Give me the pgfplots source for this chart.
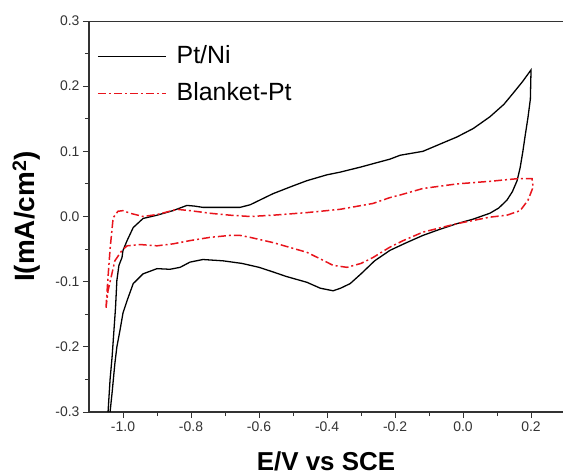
\documentclass[border=0pt]{standalone}
\usepackage{fontspec}
\setmainfont{Liberation Sans}
\usepackage{pgfplots}
\pgfplotsset{compat=1.18}
\definecolor{axgray}{HTML}{333333}
\definecolor{cvred}{HTML}{E8141C}
\begin{document}
\begin{tikzpicture}
\begin{axis}[
  at={(0,0)}, anchor=south west,
  scale only axis,
  width=474bp, height=391bp,
  xmin=-1.1, xmax=0.294, ymin=-0.3, ymax=0.3,
  axis x line*=bottom, axis y line*=left,
  axis line style={axgray, line width=1.2pt},
  tick align=outside,
  major tick length=6bp, minor tick length=4bp,
  every tick/.style={axgray, line width=1pt},
  xtick={-1,-0.8,-0.6,-0.4,-0.2,0,0.2},
  ytick={-0.3,-0.2,-0.1,0,0.1,0.2,0.3},
  minor x tick num=1, minor y tick num=1,
  /pgf/number format/assume math mode=true,
  /pgf/number format/fixed, /pgf/number format/fixed zerofill,
  /pgf/number format/precision=1,
  xticklabel style={/pgf/number format/precision=1, font=\fontsize{14}{15}\selectfont, text=axgray},
  yticklabel style={/pgf/number format/precision=1, font=\fontsize{14}{15}\selectfont, text=axgray},
  xlabel={\textbf{E/V vs SCE}},
  ylabel={\textbf{I(mA/cm$^{\mathbf{2}}$)}},
  xlabel style={font=\fontsize{26}{28}\selectfont, at={([yshift=-58bp]rel axis cs:0.5,0)}, anchor=base},
  ylabel style={font=\fontsize{28}{30}\selectfont, at={([xshift=-54bp]rel axis cs:0,0.5)}, anchor=base},
  legend style={draw=none, fill=none, at={(rel axis cs:0,1)}, anchor=north west,
    xshift=8bp, yshift=-22bp, inner sep=0pt,
    font=\fontsize{25}{27}\selectfont, row sep=10bp, legend cell align=left,
    nodes={inner sep=2bp, text height=18bp, text depth=5bp},
    /tikz/every odd column/.append style={column sep=8bp}},
  legend image code/.code={\draw[#1] (0bp,0bp) -- (68bp,0bp);},
]
\draw[axgray, line width=1.2pt] (rel axis cs:0,1) -- (rel axis cs:1,1);
\addplot[black, line width=1.3pt] coordinates {
(-1.044,-0.30)(-1.038,-0.25)(-1.032,-0.215)(-1.026,-0.17)(-1.022,-0.14)(-1.018,-0.098)(-1.012,-0.075)
(-1.003,-0.063)(-1.0,-0.052)(-0.988,-0.037)(-0.97,-0.017)(-0.941,-0.003)(-0.9,0.002)(-0.853,0.009)
(-0.812,0.017)(-0.79,0.016)(-0.765,0.014)(-0.706,0.014)(-0.656,0.014)(-0.626,0.018)(-0.559,0.035)
(-0.5,0.047)(-0.459,0.055)(-0.4,0.064)(-0.362,0.068)(-0.3,0.076)(-0.265,0.081)(-0.215,0.088)
(-0.185,0.094)(-0.118,0.10)(-0.05,0.115)(-0.018,0.122)(0.03,0.135)(0.079,0.153)(0.12,0.172)
(0.147,0.189)(0.175,0.207)(0.2,0.225)
(0.198,0.18)(0.191,0.152)(0.183,0.125)(0.176,0.10)(0.168,0.075)(0.159,0.055)(0.145,0.038)
(0.129,0.025)(0.105,0.013)(0.079,0.005)(0.03,-0.004)(-0.018,-0.011)(-0.07,-0.02)(-0.118,-0.029)
(-0.17,-0.041)(-0.215,-0.052)(-0.26,-0.068)(-0.3,-0.088)(-0.332,-0.103)(-0.36,-0.11)(-0.382,-0.114)
(-0.42,-0.11)(-0.459,-0.101)(-0.52,-0.092)(-0.559,-0.085)(-0.6,-0.078)(-0.65,-0.072)(-0.706,-0.068)
(-0.765,-0.066)(-0.803,-0.07)(-0.832,-0.078)(-0.862,-0.081)(-0.9,-0.08)(-0.941,-0.088)(-0.97,-0.103)
(-0.988,-0.129)(-1.0,-0.148)(-1.009,-0.175)(-1.018,-0.2)(-1.024,-0.226)(-1.032,-0.27)(-1.038,-0.30)
};
\addlegendentry{Pt/Ni}
\addplot[cvred, line width=1.5pt, dash pattern=on 8bp off 3bp on 2bp off 3bp] coordinates {
(-1.05,-0.14)(-1.045,-0.1)(-1.038,-0.05)(-1.029,-0.002)(-1.015,0.008)(-1.0,0.009)(-0.979,0.005)
(-0.941,0.0)(-0.9,0.003)(-0.841,0.011)(-0.803,0.009)(-0.744,0.005)(-0.685,0.002)(-0.626,0.0)
(-0.559,0.002)(-0.459,0.006)(-0.362,0.011)(-0.265,0.02)(-0.215,0.029)(-0.185,0.033)(-0.118,0.043)
(-0.018,0.05)(0.079,0.054)(0.159,0.058)(0.203,0.058)(0.206,0.045)(0.191,0.025)(0.168,0.009)
(0.129,0.002)(0.079,-0.001)(-0.018,-0.011)(-0.118,-0.024)(-0.176,-0.037)(-0.215,-0.047)
(-0.265,-0.063)(-0.3,-0.072)(-0.341,-0.078)(-0.382,-0.075)(-0.42,-0.065)(-0.459,-0.055)
(-0.559,-0.04)(-0.626,-0.032)(-0.656,-0.029)(-0.685,-0.029)(-0.744,-0.032)(-0.803,-0.037)
(-0.853,-0.042)(-0.9,-0.045)(-0.95,-0.043)(-0.988,-0.045)(-1.003,-0.052)(-1.024,-0.068)
(-1.044,-0.114)(-1.05,-0.14)
};
\addlegendentry{Blanket-Pt}
\end{axis}
\pgfresetboundingbox
\path (-89bp,-64bp) rectangle (475bp,412bp);
\end{tikzpicture}
\end{document}
